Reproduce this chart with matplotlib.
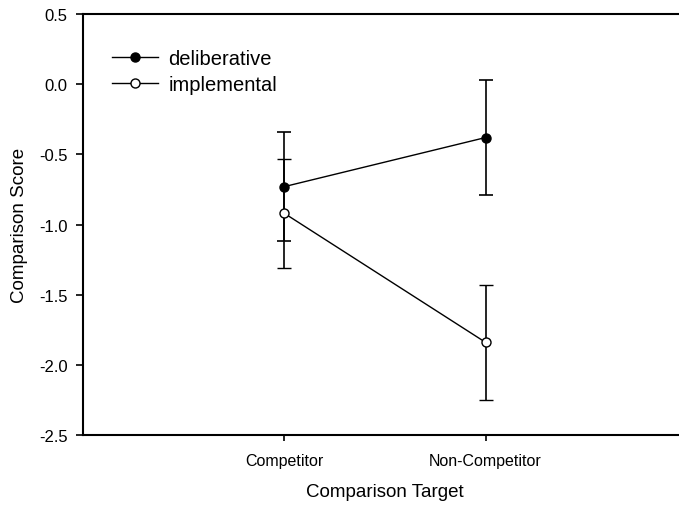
import matplotlib
matplotlib.use("Agg")
import matplotlib.pyplot as plt

plt.rcParams['font.family'] = ['Liberation Sans', 'DejaVu Sans']

targets = ['Competitor', 'Non-Competitor']
x_pos = [1, 2]
deliberative = [-0.73, -0.38]
deliberative_se = [0.39, 0.41]
implemental = [-0.92, -1.84]
implemental_se = [0.39, 0.41]

fig = plt.figure(figsize=(6.79, 5.06), dpi=100)
ax = fig.add_axes([0.1222, 0.1383, 0.8895, 0.832])

ax.errorbar(x_pos, deliberative, yerr=deliberative_se, color='black', lw=1.0,
            marker='o', ms=6.5, mfc='black', mec='black', capsize=5,
            elinewidth=1.2, capthick=1.2, label='deliberative', zorder=3)
ax.errorbar(x_pos, implemental, yerr=implemental_se, color='black', lw=1.0,
            marker='o', ms=6.5, mfc='white', mec='black', mew=1.0, capsize=5,
            elinewidth=1.2, capthick=1.2, label='implemental', zorder=3)

ax.set_xlim(0, 3)
ax.set_ylim(-2.5, 0.5)
ax.set_yticks([-2.5, -2.0, -1.5, -1.0, -0.5, 0.0, 0.5])
ax.set_yticklabels(['-2.5', '-2.0', '-1.5', '-1.0', '-0.5', '0.0', '0.5'])
ax.set_xticks(x_pos)
ax.set_xticklabels(targets, fontsize=11.5)
ax.tick_params(axis='y', labelsize=12, length=5, width=1.2, pad=6)
ax.tick_params(axis='x', length=4, width=1.2, pad=9)
for s in ax.spines.values():
    s.set_linewidth(1.5)

ax.set_xlabel('Comparison Target', fontsize=13.5, labelpad=11)
ax.set_ylabel('Comparison Score', fontsize=13.5, labelpad=8)

handles, labels = ax.get_legend_handles_labels()
handles = [h[0] for h in handles]
ax.legend(handles, labels, loc='upper left', bbox_to_anchor=(0.035, 0.935),
          frameon=False, fontsize=14.5, handlelength=2.3, handletextpad=0.5,
          labelspacing=0.32, borderaxespad=0)

fig.savefig('out.png', dpi=100)
